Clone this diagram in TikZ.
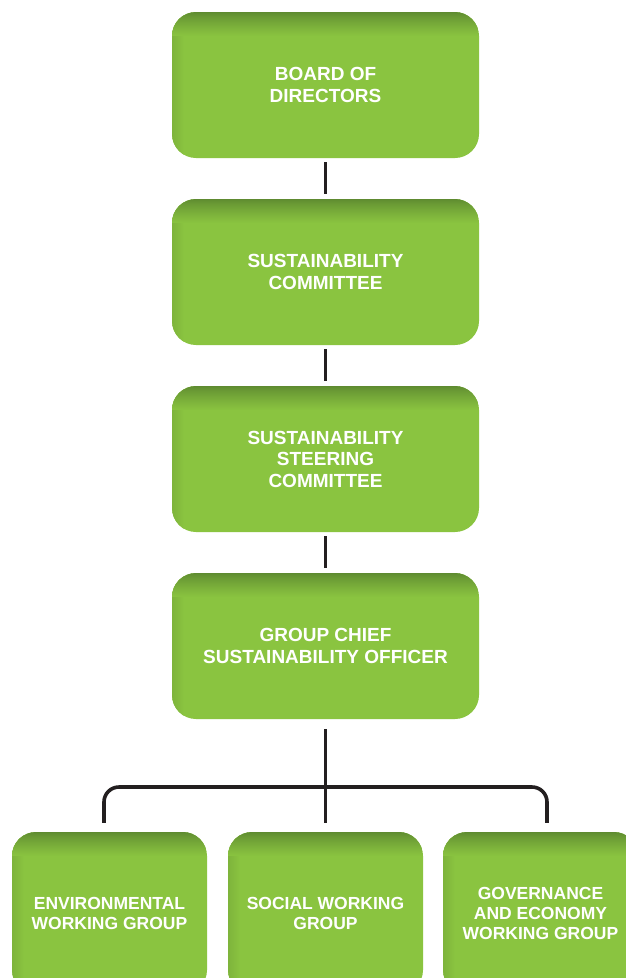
\documentclass[tikz,border=0pt]{standalone}
\usepackage{fontspec}
\setmainfont{Liberation Sans}
\definecolor{gmain}{HTML}{8AC440}
\definecolor{gdark}{HTML}{5E8A30}
\definecolor{lineblk}{HTML}{231F20}
\tikzset{
  gbox/.style={rounded corners=24pt, fill=gmain, text=white, align=center, inner sep=0pt,
    path picture={
      \foreach \i in {0,...,11}{
        \pgfmathsetmacro\q{72+28*(\i/12)}
        \pgfmathsetmacro\xa{\i}
        \pgfmathsetmacro\xb{\i+1.2}
        \fill[sharp corners, gmain!\q!gdark]
          ([xshift=\xa pt]path picture bounding box.north west) rectangle ([xshift=\xb pt]path picture bounding box.south west);
      }
      \foreach \i in {0,...,23}{
        \pgfmathsetmacro\p{100*(\i/24)^0.8}
        \pgfmathsetmacro\ya{-\i}
        \pgfmathsetmacro\yb{-\i-1.2}
        \fill[sharp corners, gmain!\p!gdark]
          ([yshift=\ya pt]path picture bounding box.north west) rectangle ([yshift=\yb pt]path picture bounding box.north east);
      }
    }},
  topbox/.style={gbox, minimum width=307pt, minimum height=146pt,
    font=\bfseries\fontsize{19}{21.5}\selectfont},
  lowbox/.style={gbox, minimum width=195pt, minimum height=162pt,
    font=\bfseries\fontsize{17.5}{20}\selectfont},
  conn/.style={draw=lineblk, line width=3.6pt},
}
\begin{document}
\begin{tikzpicture}[x=1pt,y=-1pt]
\clip (0,0) rectangle (626,978);
\fill[white] (0,0) rectangle (626,978);
\node[topbox] (b1) at (325.5,85) {BOARD OF\\DIRECTORS};
\node[topbox] (b2) at (325.5,272) {SUSTAINABILITY\\COMMITTEE};
\node[topbox] (b3) at (325.5,459) {SUSTAINABILITY\\STEERING\\COMMITTEE};
\node[topbox] (b4) at (325.5,646) {GROUP CHIEF\\SUSTAINABILITY OFFICER};
\node[lowbox] (e) at (109.5,913) {ENVIRONMENTAL\\WORKING GROUP};
\node[lowbox] (s) at (325.5,913) {SOCIAL WORKING\\GROUP};
\node[lowbox] (g) at (540.5,913) {GOVERNANCE\\AND ECONOMY\\WORKING GROUP};
\coordinate (bar) at (325.5,787);
\draw[conn, shorten <=4pt, shorten >=5pt] (b1) -- (b2);
\draw[conn, shorten <=4pt, shorten >=5pt] (b2) -- (b3);
\draw[conn, shorten <=4pt, shorten >=5pt] (b3) -- (b4);
\draw[conn, shorten <=10pt, shorten >=9pt] (b4) -- (s);
\draw[conn, rounded corners=15pt] ([shift={(-5.5,-9)}]e.north) |- (bar) -| ([shift={(6.5,-9)}]g.north);
\end{tikzpicture}
\end{document}
